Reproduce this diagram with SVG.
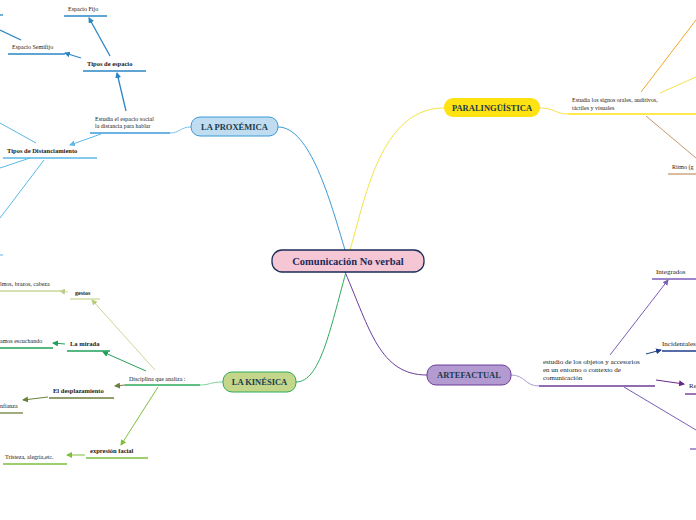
<svg xmlns="http://www.w3.org/2000/svg" width="696" height="520" viewBox="0 0 696 520">
<style>
text{font-family:"Liberation Serif",serif;fill:#222;font-size:7px}
.b{font-weight:bold}
.m{font-size:8.5px;font-weight:bold;fill:#1a3a4a;text-anchor:middle}
#connectors path{fill:none}
</style>
<defs>
<marker id="a1" viewBox="0 0 6 6" refX="5" refY="3" markerUnits="userSpaceOnUse" markerWidth="6" markerHeight="6" orient="auto"><path d="M0,0L6,3L0,6z" fill="#2b86c5"/></marker>
<marker id="a2" viewBox="0 0 6 6" refX="5" refY="3" markerUnits="userSpaceOnUse" markerWidth="6" markerHeight="6" orient="auto"><path d="M0,0L6,3L0,6z" fill="#5bb8e8"/></marker>
<marker id="a3" viewBox="0 0 6 6" refX="5" refY="3" markerUnits="userSpaceOnUse" markerWidth="6" markerHeight="6" orient="auto"><path d="M0,0L6,3L0,6z" fill="#7b5cb8"/></marker>
<marker id="a4" viewBox="0 0 6 6" refX="5" refY="3" markerUnits="userSpaceOnUse" markerWidth="6" markerHeight="6" orient="auto"><path d="M0,0L6,3L0,6z" fill="#1f3d8a"/></marker>
<marker id="a5" viewBox="0 0 6 6" refX="5" refY="3" markerUnits="userSpaceOnUse" markerWidth="6" markerHeight="6" orient="auto"><path d="M0,0L6,3L0,6z" fill="#6a2a8a"/></marker>
<marker id="a6" viewBox="0 0 6 6" refX="5" refY="3" markerUnits="userSpaceOnUse" markerWidth="6" markerHeight="6" orient="auto"><path d="M0,0L6,3L0,6z" fill="#b8cc80"/></marker>
<marker id="a7" viewBox="0 0 6 6" refX="5" refY="3" markerUnits="userSpaceOnUse" markerWidth="6" markerHeight="6" orient="auto"><path d="M0,0L6,3L0,6z" fill="#1fa05a"/></marker>
<marker id="a8" viewBox="0 0 6 6" refX="5" refY="3" markerUnits="userSpaceOnUse" markerWidth="6" markerHeight="6" orient="auto"><path d="M0,0L6,3L0,6z" fill="#6b7f3a"/></marker>
<marker id="a9" viewBox="0 0 6 6" refX="5" refY="3" markerUnits="userSpaceOnUse" markerWidth="6" markerHeight="6" orient="auto"><path d="M0,0L6,3L0,6z" fill="#7cbf3c"/></marker>
</defs>
<rect width="696" height="520" fill="#fff"/>
<g id="connectors" stroke-width="1">
<path d="M345,250 C330,200 310,127 278,127" stroke="#3a9ad9"/>
<path d="M350,250 C365,200 380,108 444,108" stroke="#f5e24a"/>
<path d="M345,272 C370,330 380,375 427,375" stroke="#6a3d9a"/>
<path d="M346,272 C330,330 320,382 296,382" stroke="#2eaa5b"/>
<path d="M191,127 C180,127 180,133 170,133" stroke="#7fc3ea"/>
<path d="M540,108 C555,108 555,114 568,114" stroke="#f5e24a"/>
<path d="M511,375 C525,375 525,386 539,386" stroke="#b39ad1"/>
<path d="M223,382 C210,382 210,385 200,385" stroke="#7fd39a"/>
<g stroke="#2b86c5" stroke-width="1.3">
<line x1="126" y1="111" x2="117" y2="73" marker-end="url(#a1)"/>
<line x1="110" y1="56" x2="89" y2="18" marker-end="url(#a1)"/>
<line x1="81" y1="58" x2="65" y2="53" marker-end="url(#a1)"/>
<line x1="21" y1="40" x2="0" y2="30"/>
<line x1="83" y1="71" x2="146" y2="71"/><line x1="64" y1="16" x2="107" y2="16"/><line x1="8" y1="54" x2="65" y2="54"/><line x1="0" y1="15" x2="3" y2="15"/>
</g>
<g stroke="#5bb8e8" stroke-width="1">
<line x1="101" y1="134" x2="70" y2="145" marker-end="url(#a2)"/>
<line x1="36" y1="143" x2="0" y2="123"/>
<line x1="30" y1="158" x2="0" y2="168"/>
<line x1="44" y1="160" x2="0" y2="218"/>
<line x1="90" y1="133" x2="170" y2="133" stroke="#3a9ad9" stroke-width="1.3"/>
<line x1="3" y1="158" x2="97" y2="158" stroke-width="1.3"/>
<line x1="0" y1="255" x2="3" y2="255"/>
</g>
<line x1="568" y1="114" x2="696" y2="114" stroke="#ffe212" stroke-width="1.3"/>
<line x1="641" y1="92" x2="696" y2="20" stroke="#f5a623"/>
<line x1="660" y1="93" x2="696" y2="77" stroke="#f5e24a"/>
<line x1="646" y1="116" x2="696" y2="158" stroke="#c49a6c"/>
<line x1="668" y1="174" x2="696" y2="174" stroke="#c49a6c" stroke-width="1.3"/>
<g stroke="#7b5cb8" stroke-width="1">
<line x1="539" y1="386" x2="655" y2="386" stroke="#6a3d9a" stroke-width="1.3"/>
<line x1="610" y1="355" x2="668" y2="280" marker-end="url(#a3)"/>
<line x1="652" y1="279" x2="696" y2="279" stroke-width="1.3"/>
<line x1="646" y1="354" x2="661" y2="350" stroke="#1f3d8a" marker-end="url(#a4)"/>
<line x1="662" y1="351" x2="696" y2="351" stroke="#1f3d8a" stroke-width="1.3"/>
<line x1="656" y1="380" x2="684" y2="384" stroke="#6a2a8a" marker-end="url(#a5)"/>
<line x1="685" y1="394" x2="696" y2="394" stroke="#6a2a8a" stroke-width="1.3"/>
<line x1="624" y1="387" x2="696" y2="430"/>
<line x1="690" y1="449" x2="696" y2="449" stroke-width="1.3"/>
</g>
<line x1="125" y1="385" x2="200" y2="385" stroke="#2eaa5b" stroke-width="1.3"/>
<line x1="155" y1="370" x2="92" y2="300" stroke="#c8d99a" marker-end="url(#a6)"/>
<line x1="70" y1="299" x2="100" y2="299" stroke="#c8d99a" stroke-width="1.3"/>
<line x1="68" y1="292" x2="60" y2="291" stroke="#c8d99a" marker-end="url(#a6)"/>
<line x1="0" y1="291" x2="63" y2="291" stroke="#c8d99a" stroke-width="1.3"/>
<line x1="146" y1="371" x2="103" y2="352" stroke="#1fa05a" marker-end="url(#a7)"/>
<line x1="67" y1="351" x2="110" y2="351" stroke="#1fa05a" stroke-width="1.3"/>
<line x1="65" y1="344" x2="53" y2="343" stroke="#1fa05a" marker-end="url(#a7)"/>
<line x1="0" y1="348" x2="53" y2="348" stroke="#1fa05a" stroke-width="1.3"/>
<line x1="125" y1="385" x2="115" y2="386" stroke="#6b7f3a" marker-end="url(#a8)"/>
<line x1="49" y1="398" x2="114" y2="398" stroke="#6b7f3a" stroke-width="1.3"/>
<line x1="48" y1="397" x2="23" y2="400" stroke="#6b7f3a" marker-end="url(#a8)"/>
<line x1="0" y1="413" x2="23" y2="413" stroke="#6b7f3a" stroke-width="1.3"/>
<line x1="158" y1="387" x2="121" y2="445" stroke="#7cbf3c" marker-end="url(#a9)"/>
<line x1="86" y1="458" x2="148" y2="458" stroke="#7cbf3c" stroke-width="1.3"/>
<line x1="85" y1="455" x2="67" y2="455" stroke="#7cbf3c" marker-end="url(#a9)"/>
<line x1="3" y1="464" x2="67" y2="464" stroke="#7cbf3c" stroke-width="1.3"/>
</g>
<g id="center"><rect x="272" y="250" width="152" height="22" rx="10" fill="#f5c6d3" stroke="#1a2a5a" stroke-width="1.3"/><text x="348" y="265" class="m" style="font-size:10.5px;fill:#1a2a5a">Comunicación No verbal</text></g>
<g id="proxemica"><rect x="191" y="117" width="87" height="19" rx="9" fill="#bfdcf0" stroke="#3a9ad9"/><text x="234.5" y="129.5" class="m">LA PROXÉMICA</text></g>
<g id="paraling"><rect x="444" y="98" width="96" height="19" rx="9" fill="#ffe212"/><text x="492" y="110.5" class="m">PARALINGÜÍSTICA</text></g>
<g id="artefactual"><rect x="427" y="365" width="84" height="20" rx="9" fill="#b39ad1" stroke="#6a3d9a"/><text x="469" y="378" class="m">ARTEFACTUAL</text></g>
<g id="kinesica"><rect x="223" y="372" width="73" height="20" rx="9" fill="#c3d68a" stroke="#2eaa5b"/><text x="259.5" y="385" class="m">LA KINÉSICA</text></g>
<g id="labels">
<text x="95" y="121" style="font-size:6px">Estudia el espacio social</text><text x="95" y="128" style="font-size:6px">la distancia para hablar</text>
<text x="87" y="66" class="b" style="font-size:6.5px">Tipos de espacio</text>
<text x="68" y="11" style="font-size:6px">Espacio Fijo</text>
<text x="12" y="49" style="font-size:6px">Espacio Semifijo</text>
<text x="7" y="153" class="b" style="font-size:6.5px">Tipos de Distanciamiento</text>
<text x="572" y="102" style="font-size:6px">Estudia los signos orales, auditivos,</text><text x="572" y="110" style="font-size:6px">táctiles y visuales</text>
<text x="672" y="169" style="font-size:6px">Ritmo (g</text>
<text x="543" y="364">estudio de los objetos y accesorios</text><text x="543" y="372">en un entorno o contexto de</text><text x="543" y="380">comunicación</text>
<text x="656" y="274">Integrados</text>
<text x="662" y="346">Incidentales</text>
<text x="689" y="388">Re</text>
<text x="129" y="381" style="font-size:6px">Disciplina que analiza :</text>
<text x="75" y="295" class="b" style="font-size:6px">gestos</text>
<text x="0" y="286" style="font-size:6px">lmos, brazos, cabeza</text>
<text x="70" y="346" class="b" style="font-size:6.5px">La mirada</text>
<text x="0" y="343" style="font-size:6px">amos escuchando</text>
<text x="53" y="393" class="b" style="font-size:6.5px">El desplazamiento</text>
<text x="0" y="408" style="font-size:6px">nfianza</text>
<text x="90" y="453" class="b" style="font-size:6.5px">expresión facial</text>
<text x="5" y="459" style="font-size:6px">Tristeza, alegria,etc.</text>
</g>
</svg>
